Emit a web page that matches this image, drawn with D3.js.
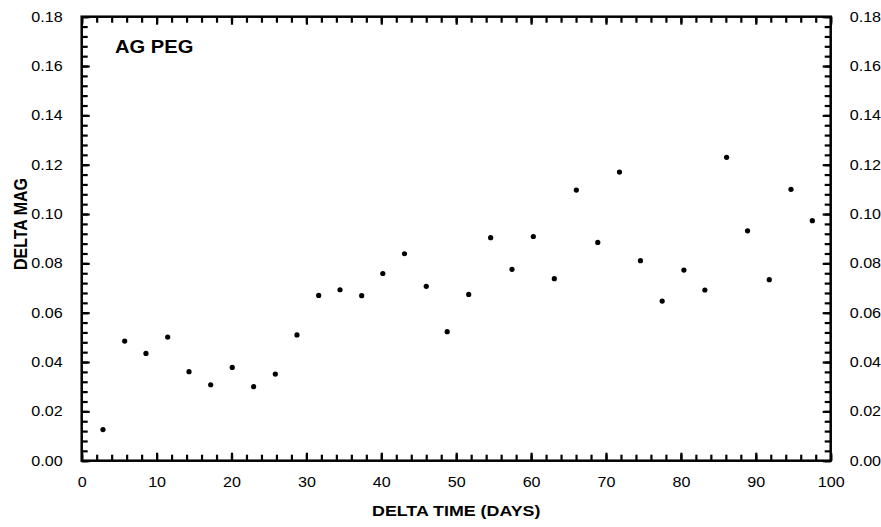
<!DOCTYPE html>
<html>
<head>
<meta charset="utf-8">
<script src="https://cdn.jsdelivr.net/npm/d3@7"></script>
<style>
  html, body { margin: 0; padding: 0; background: #fff; }
  svg { display: block; }
  .tick text { font-family: "Liberation Sans", Arial, sans-serif; font-size: 14px; fill: #000; }
  .title { font-family: "Liberation Sans", Arial, sans-serif; font-weight: bold; fill: #000; }
</style>
</head>
<body>
<svg id="chart" width="881" height="527"></svg>
<script>
// Observation times (days) and magnitude differences for AG Peg
const deltaTime = [2.84, 5.74, 8.58, 11.48, 14.33, 17.22, 20.1, 22.96, 25.85, 28.74,
  31.64, 34.49, 37.38, 40.2, 43.1, 46.0, 48.8, 51.67, 54.6, 57.45,
  60.3, 63.1, 66.04, 68.9, 71.8, 74.6, 77.5, 80.4, 83.2, 86.1,
  88.9, 91.8, 94.7, 97.55];
const deltaMag = [0.0126, 0.0485, 0.0435, 0.0501, 0.0361, 0.0308, 0.0378, 0.0300, 0.0351, 0.0510,
  0.0670, 0.0693, 0.0669, 0.0759, 0.0839, 0.0707, 0.0523, 0.0674, 0.0904, 0.0776,
  0.0909, 0.0738, 0.1097, 0.0885, 0.1170, 0.0811, 0.0647, 0.0773, 0.0692, 0.1230,
  0.0932, 0.0734, 0.1100, 0.0973];

const xMajorTicks = [0, 10, 20, 30, 40, 50, 60, 70, 80, 90, 100];
const xMinorTicks = d3.range(0, 100.001, 2);
const yMajorTicks = [0, 0.02, 0.04, 0.06, 0.08, 0.10, 0.12, 0.14, 0.16, 0.18];
const yMinorTicks = d3.range(0, 0.18001, 0.004);

const starName = "AG PEG";
const xTitle = "DELTA TIME (DAYS)";
const yTitle = "DELTA MAG";

const svg = d3.select("#chart");
const m = { left: 81.7, right: 830.7, top: 16.7, bottom: 460.7 };
const widen = 1.15; // horizontal stretch applied to lettering

const x = d3.scaleLinear().domain([0, 100]).range([m.left, m.right]);
const y = d3.scaleLinear().domain([0, 0.18]).range([m.bottom, m.top]);

const fmtY = d3.format(".2f");

// minor ticks, pointing inward, no labels
svg.append("g").attr("transform", `translate(0,${m.bottom})`)
  .call(d3.axisBottom(x).tickValues(xMinorTicks).tickSize(-6).tickFormat(""));
svg.append("g").attr("transform", `translate(0,${m.top})`)
  .call(d3.axisTop(x).tickValues(xMinorTicks).tickSize(-6).tickFormat(""));
svg.append("g").attr("transform", `translate(${m.left},0)`)
  .call(d3.axisLeft(y).tickValues(yMinorTicks).tickSize(-6).tickFormat(""));
svg.append("g").attr("transform", `translate(${m.right},0)`)
  .call(d3.axisRight(y).tickValues(yMinorTicks).tickSize(-6).tickFormat(""));

// major ticks with labels
svg.append("g").attr("transform", `translate(0,${m.bottom})`)
  .call(d3.axisBottom(x).tickValues(xMajorTicks).tickSize(-8).tickPadding(16).tickFormat(d3.format("d")));
svg.append("g").attr("transform", `translate(0,${m.top})`)
  .call(d3.axisTop(x).tickValues(xMajorTicks).tickSize(-8).tickFormat(""));
svg.append("g").attr("transform", `translate(${m.left},0)`)
  .call(d3.axisLeft(y).tickValues(yMajorTicks).tickSize(-8).tickPadding(19).tickFormat(fmtY));
svg.append("g").attr("transform", `translate(${m.right},0)`)
  .call(d3.axisRight(y).tickValues(yMajorTicks).tickSize(-8).tickPadding(19).tickFormat(fmtY));

svg.selectAll(".domain").remove();
svg.selectAll(".tick line").attr("stroke", "#000").attr("stroke-width", 2.2);

// frame
svg.append("rect")
  .attr("x", m.left).attr("y", m.top)
  .attr("width", m.right - m.left).attr("height", m.bottom - m.top)
  .attr("fill", "none").attr("stroke", "#000").attr("stroke-width", 2.5);

// data points
svg.append("g").selectAll("circle")
  .data(deltaTime.map((t, i) => [t, deltaMag[i]]))
  .join("circle")
  .attr("cx", d => x(d[0]))
  .attr("cy", d => y(d[1]))
  .attr("r", 2.6)
  .attr("fill", "#000");

// titles
svg.append("text").attr("class", "title wide")
  .attr("x", 115).attr("y", 53).attr("font-size", 17.5)
  .text(starName);

svg.append("text").attr("class", "title wide")
  .attr("x", (m.left + m.right) / 2).attr("y", 516)
  .attr("text-anchor", "middle").attr("font-size", 15.5)
  .text(xTitle);

svg.append("text").attr("class", "title")
  .attr("transform", `translate(27,224) scale(${widen},1) rotate(-90)`)
  .attr("text-anchor", "middle").attr("font-size", 16)
  .text(yTitle);

// widen horizontal lettering (tick labels and horizontal titles)
svg.selectAll(".tick text, text.wide").each(function () {
  const len = this.getComputedTextLength();
  if (len > 0) {
    d3.select(this)
      .attr("textLength", len * widen)
      .attr("lengthAdjust", "spacingAndGlyphs");
  }
});
</script>
</body>
</html>
